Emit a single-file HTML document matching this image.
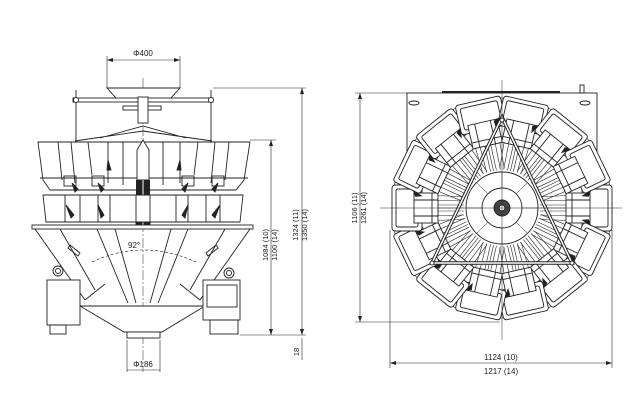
<!DOCTYPE html>
<html><head><meta charset="utf-8"><style>
html,body{margin:0;padding:0;background:#fff;}
svg{display:block;}
text{font-family:"Liberation Sans",sans-serif;fill:#222;}
</style></head><body>
<svg width="640" height="420" viewBox="0 0 640 420" xmlns="http://www.w3.org/2000/svg">
<defs>
<g id="u" fill="none" stroke="#222" stroke-width="0.9">
  <rect x="80" y="-23" width="30" height="46" rx="3" fill="#fff"/>
  <rect x="84" y="-19" width="22" height="38" rx="2"/>
  <path d="M38,-11 L72,-13 M38,11 L72,13 M38,-7 L72,-8 M38,-3 L72,-3 M38,3 L72,3 M38,7 L72,8 M38,0 L72,0" stroke-width="0.6"/>
  <rect x="64" y="-15" width="24" height="30" fill="#fff"/>
  <path d="M70,-15 V15 M64,-8 H88 M64,8 H88"/>
  <path d="M78,-24 l5,-3 l4,4 z M78,24 l5,3 l4,-4 z" fill="#222"/>
</g>
</defs>

<!-- LEFT VIEW -->
<g fill="none" stroke="#222" stroke-width="0.9">
  <!-- phi400 dim -->
  <line x1="107" y1="60" x2="180" y2="60" stroke-width="0.6"/>
  <line x1="107" y1="56" x2="107" y2="88" stroke-width="0.6"/>
  <line x1="180" y1="56" x2="180" y2="88" stroke-width="0.6"/>
  <!-- centre line -->
  <line x1="143" y1="78" x2="143" y2="372" stroke-width="0.5" stroke-dasharray="10,2,2,2"/>
  <!-- hopper -->
  <path d="M107,88 H180 L170,99 H117 Z" fill="#fff"/>
  <!-- bar & posts -->
  <rect x="73" y="98" width="140" height="4" fill="#fff"/>
  <line x1="76" y1="90" x2="76" y2="142"/>
  <line x1="211" y1="90" x2="211" y2="142"/>
  <circle cx="76" cy="100" r="2.5" fill="#fff"/><circle cx="211" cy="100" r="2.5" fill="#fff"/>
  <rect x="123" y="106" width="38" height="4" fill="#fff"/>
  <rect x="138" y="97" width="10" height="26" fill="#fff"/>
  <!-- top cone -->
  <path d="M75,141 L143,131 L212,141 M100,138 L143,126 L186,138"/>
  <!-- upper buckets -->
  <path d="M38,142 H250 L244,180 L236,190 H50 L43,180 Z" fill="#fff"/>
  <path d="M71,142 L75,183 M108,142 V183 M180,142 V183 M215,142 L211,183 M88,142 L92,175 M198,142 L194,175 M58,142 L62,180 M229,142 L225,180 M40,178 H248"/>
  <path d="M123,142 V185 M163,142 V185" />
  <path d="M137,150 L143,140 L149,150 V180 H137 Z" fill="#fff"/>
  <rect x="64" y="176" width="12" height="10"/><rect x="92" y="176" width="12" height="10"/>
  <rect x="182" y="176" width="12" height="10"/><rect x="212" y="176" width="12" height="10"/>
  <path d="M72,183 l6,6 l-3,3 z M98,183 l6,6 l-3,3 z M188,183 l-6,6 l3,3 z M218,183 l-6,6 l3,3 z M108,160 l3,10 l-4,0 z M180,160 l-3,10 l4,0z" fill="#222"/>
  <rect x="136" y="180" width="14" height="47" fill="#222" stroke="none"/>
  <line x1="143" y1="180" x2="143" y2="227" stroke="#fff" stroke-width="1"/>
  <!-- lower buckets -->
  <path d="M43,195 H243 L240,222 H46 Z" fill="#fff"/>
  <path d="M65,195 V222 M98,195 V222 M110,195 V222 M176,195 V222 M188,195 V222 M220,195 V222 M80,195 V222 M206,195 V222"/>
  <path d="M136,195 V225 M150,195 V225"/>
  <path d="M66,205 l8,10 l-3,3 z M98,205 l6,10 l-3,3 z M188,205 l-6,10 l3,3 z M220,205 l-8,10 l3,3 z" fill="#222"/>
  <!-- base plate -->
  <rect x="32" y="225" width="221" height="4" fill="#fff"/>
  <!-- big cone -->
  <path d="M35,229 L85,300 M250,229 L200,300"/>
  <path d="M60,229 L95,290 M225,229 L190,290 M97,229 L128,303 M188,229 L158,303 M115,229 L136,303 M171,229 L150,303"/>
  <path d="M85,300 L105,284 M200,300 L180,284 M70,245 l10,8 l-2,3 l-10,-8z M216,245 l-10,8 l2,3 l10,-8z"/>
  <path d="M92,262 Q143,238 196,262" stroke-dasharray="3,2" stroke-width="0.6"/>
  <!-- outlet -->
  <path d="M80,306 H205 L162,332 H124 Z" fill="#fff"/>
  <rect x="127" y="332" width="33" height="6" fill="#fff"/>
  <!-- side boxes -->
  <circle cx="58" cy="271" r="5"/><circle cx="58" cy="271" r="2.5"/>
  <circle cx="229" cy="273" r="5"/><circle cx="229" cy="273" r="2.5"/>
  <rect x="47" y="280" width="33" height="45" fill="#fff"/>
  <rect x="50" y="325" width="16" height="9"/>
  <rect x="203" y="280" width="37" height="40" fill="#fff"/>
  <rect x="207" y="285" width="30" height="22"/>
  <rect x="210" y="320" width="28" height="14"/>
  <!-- dims -->
  <line x1="240" y1="335" x2="306" y2="335" stroke-width="0.6"/>
  <line x1="213" y1="88" x2="306" y2="88" stroke-width="0.6"/>
  <line x1="250" y1="140" x2="276" y2="140" stroke-width="0.6"/>
  <line x1="302" y1="88" x2="302" y2="335" stroke-width="0.6"/>
  <line x1="271" y1="140" x2="271" y2="335" stroke-width="0.6"/>
  <line x1="302" y1="338" x2="302" y2="360" stroke-width="0.6"/>
  <line x1="127" y1="340" x2="127" y2="372" stroke-width="0.6"/>
  <line x1="160" y1="340" x2="160" y2="372" stroke-width="0.6"/>
  <line x1="127" y1="370" x2="160" y2="370" stroke-width="0.6"/>
</g>
<g fill="#222">
  <path d="M302,88 l-2,6 h4z M302,335 l-2,-6 h4z M271,140 l-2,6 h4z M271,335 l-2,-6 h4z M107,60 l6,-2 v4z M180,60 l-6,-2 v4z"/>
</g>
<text x="143" y="56" font-size="8" text-anchor="middle">Φ400</text>
<text x="128" y="248" font-size="8">92°</text>
<text x="143" y="367" font-size="8" text-anchor="middle">Φ186</text>
<text font-size="7.5" text-anchor="middle" transform="translate(298,225) rotate(-90)">1324 (11)</text>
<text font-size="7.5" text-anchor="middle" transform="translate(307,225) rotate(-90)">1350 (14)</text>
<text font-size="7.5" text-anchor="middle" transform="translate(268,245) rotate(-90)">1084 (10)</text>
<text font-size="7.5" text-anchor="middle" transform="translate(277,245) rotate(-90)">1100 (14)</text>
<text font-size="7.5" text-anchor="middle" transform="translate(299,352) rotate(-90)">18</text>

<!-- RIGHT VIEW -->
<g fill="none" stroke="#222" stroke-width="0.9">
  <rect x="407" y="93" width="190" height="160" fill="#fff"/>
  <line x1="442" y1="92" x2="560" y2="92" stroke-width="2"/>
  <rect x="580" y="85" width="4" height="8"/>
  <ellipse cx="414" cy="103" rx="5" ry="2"/><ellipse cx="585" cy="103" rx="5" ry="2"/>
  <circle cx="502" cy="208" r="110" fill="#fff" stroke-width="0.6"/>
</g>
<g transform="translate(502,208)">
  <use href="#u" transform="rotate(0)"/>
  <use href="#u" transform="rotate(25.714)"/>
  <use href="#u" transform="rotate(51.43)"/>
  <use href="#u" transform="rotate(77.14)"/>
  <use href="#u" transform="rotate(102.86)"/>
  <use href="#u" transform="rotate(128.57)"/>
  <use href="#u" transform="rotate(154.29)"/>
  <use href="#u" transform="rotate(180)"/>
  <use href="#u" transform="rotate(205.71)"/>
  <use href="#u" transform="rotate(231.43)"/>
  <use href="#u" transform="rotate(257.14)"/>
  <use href="#u" transform="rotate(282.86)"/>
  <use href="#u" transform="rotate(308.57)"/>
  <use href="#u" transform="rotate(334.29)"/>
</g>
<g fill="none" stroke="#222" stroke-width="0.9">
  <!-- triangle frame -->
  <path d="M502,117 L432,263 H572 Z" stroke-width="3.5"/>
  <path d="M502,117 L432,263 H572 Z" stroke="#fff" stroke-width="1.5"/>
  <circle cx="502" cy="208" r="36" fill="#fff"/>
  <circle cx="502" cy="208" r="20"/>
  <circle cx="502" cy="208" r="8" fill="#444"/>
  <circle cx="502" cy="208" r="3" fill="#fff"/>
  <path d="M502,172 V188 M502,228 V244 M466,208 H482 M522,208 H538 M477,183 L488,194 M527,183 L516,194 M477,233 L488,222 M527,233 L516,222" stroke-width="0.5"/>
  <line x1="380" y1="208" x2="622" y2="208" stroke-width="0.5"/>
  <line x1="502" y1="80" x2="502" y2="340" stroke-width="0.5"/>
  <circle cx="432" cy="263" r="2" fill="#fff"/><circle cx="572" cy="263" r="2" fill="#fff"/><circle cx="502" cy="120" r="2" fill="#fff"/>
  <!-- dims -->
  <line x1="355" y1="93" x2="407" y2="93" stroke-width="0.6"/>
  <line x1="355" y1="322" x2="500" y2="322" stroke-width="0.6"/>
  <line x1="360" y1="93" x2="360" y2="322" stroke-width="0.6"/>
  <line x1="390" y1="230" x2="390" y2="368" stroke-width="0.6"/>
  <line x1="612" y1="230" x2="612" y2="368" stroke-width="0.6"/>
  <line x1="390" y1="363" x2="612" y2="363" stroke-width="0.6"/>
</g>
<g fill="#222">
  <path d="M360,93 l-2,6 h4z M360,322 l-2,-6 h4z M390,363 l6,-2 v4z M612,363 l-6,-2 v4z"/>
</g>
<text font-size="7.5" text-anchor="middle" transform="translate(357,208) rotate(-90)">1106 (11)</text>
<text font-size="7.5" text-anchor="middle" transform="translate(366,208) rotate(-90)">1261 (14)</text>
<text x="501" y="360" font-size="8" text-anchor="middle">1124 (10)</text>
<text x="501" y="374" font-size="8" text-anchor="middle">1217 (14)</text>
</svg>
</body></html>
